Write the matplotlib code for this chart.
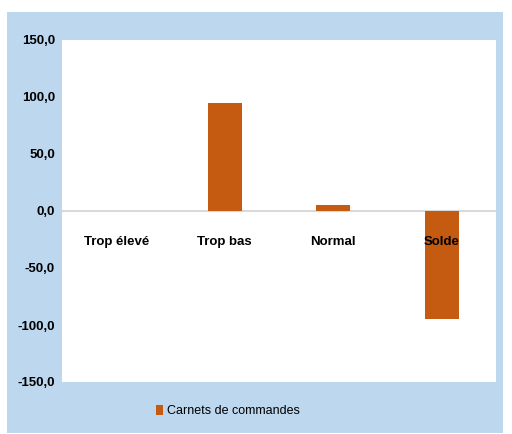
import matplotlib.pyplot as plt
from matplotlib.patches import Rectangle

categories = ['Trop élevé', 'Trop bas', 'Normal', 'Solde']
values = [0.0, 95.0, 5.0, -95.0]
yticks = [-150, -100, -50, 0, 50, 100, 150]
series_name = 'Carnets de commandes'

bar_color = '#C55A11'
panel_color = '#BDD7EE'
font = ['Liberation Sans Narrow', 'Liberation Sans', 'DejaVu Sans']

W, H = 512, 434
fig = plt.figure(figsize=(W / 100, H / 100), dpi=100)
fig.patch.set_facecolor('white')

# light blue chart panel
fig.patches.append(Rectangle((7 / W, 1 - 433 / H), (503 - 7) / W, (433 - 12) / H,
                             transform=fig.transFigure, facecolor=panel_color,
                             edgecolor='none', zorder=-10))

ax = fig.add_axes([62 / W, 1 - 382 / H, (496 - 62) / W, (382 - 40) / H])
ax.set_facecolor('white')

x = list(range(len(categories)))
ax.bar(x, values, width=0.31, color=bar_color, linewidth=0,
       label=series_name, zorder=2)

ax.set_xlim(-0.5, len(categories) - 0.5)
ax.set_ylim(-150, 150)
ax.axhline(0, color='#D9D9D9', linewidth=1.5, zorder=1)

ax.set_yticks(yticks)
ax.set_yticklabels([f'{v:.1f}'.replace('.', ',') for v in yticks],
                   fontsize=9.5, fontweight='bold', family=font)
ax.tick_params(axis='y', length=0, pad=5)
ax.set_xticks([])
for s in ax.spines.values():
    s.set_visible(False)

for xi, name in zip(x, categories):
    ax.text(xi, -27, name, ha='center', va='center', fontsize=9.5,
            fontweight='bold', family=font, zorder=3)

leg = fig.legend(loc='center', bbox_to_anchor=(228 / W, 1 - 411 / H), frameon=False,
                 prop={'family': font, 'size': 9}, handlelength=0.6,
                 handleheight=0.9, handletextpad=0.3)

fig.savefig('out.png', dpi=100)
